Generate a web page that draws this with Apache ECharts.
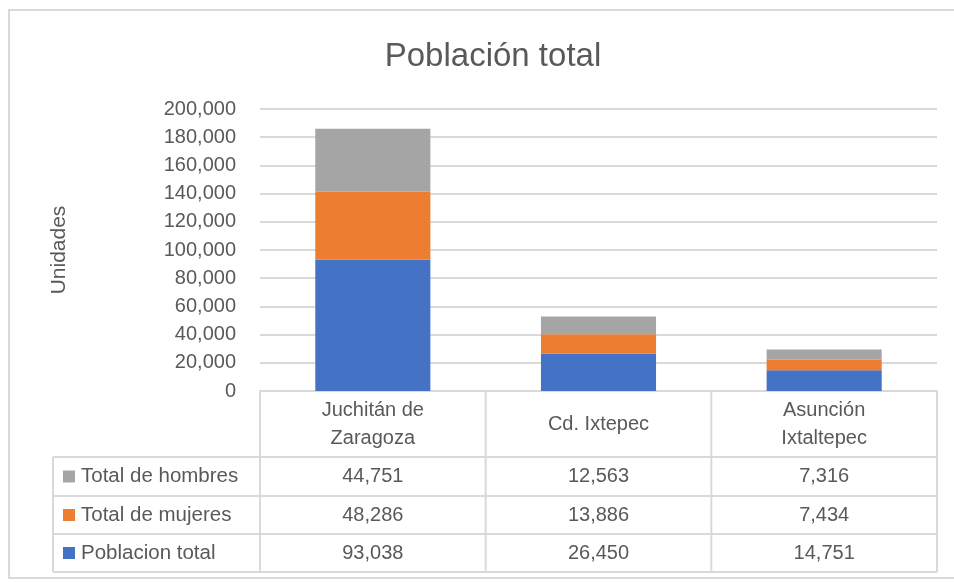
<!DOCTYPE html>
<html>
<head>
<meta charset="utf-8">
<script src="https://cdn.jsdelivr.net/npm/echarts@6/dist/echarts.min.js"></script>
<style>
  html, body { margin: 0; padding: 0; background: #fff; }
  #main { width: 954px; height: 582px; }
</style>
</head>
<body>
<div id="main"></div>
<script>
// datos de la grafica
var categories = ['Juchitán de\nZaragoza', 'Cd. Ixtepec', 'Asunción\nIxtaltepec'];
var seriesNames = ['Poblacion total', 'Total de mujeres', 'Total de hombres'];
var poblacionTotal = [93038, 26450, 14751];
var totalMujeres = [48286, 13886, 7434];
var totalHombres = [44751, 12563, 7316];
var seriesColors = ['#4472c4', '#ed7d31', '#a5a5a5'];
var yMin = 0, yMax = 200000, yStep = 20000;

var FONT = "'Liberation Sans', sans-serif";
var TXT = '#595959';
var LINE = '#d9d9d9';

// posiciones del area de trazado
var gridLeft = 260, gridRight = 17, gridTop = 109, gridBottom = 191;
var plotRight = 954 - gridRight;
var colW = (plotRight - gridLeft) / categories.length;
var axisY = 582 - gridBottom;
var tableLeft = 53;
var rowLines = [457, 496, 534, 572];

function fmt(v) {
	return v.toLocaleString('en-US');
}

var allData = [poblacionTotal, totalMujeres, totalHombres];

//tabla de datos
function buildTable() {
	var els = [];
	// lineas horizontales
	for(var i = 0; i < rowLines.length; i++) {
		els.push({
			type: 'line',
			shape: { x1: tableLeft, y1: rowLines[i], x2: plotRight, y2: rowLines[i] },
			style: { stroke: LINE, lineWidth: 2 }
		});
	}
	// lineas verticales
	els.push({
		type: 'line',
		shape: { x1: tableLeft, y1: rowLines[0], x2: tableLeft, y2: rowLines[rowLines.length - 1] },
		style: { stroke: LINE, lineWidth: 2 }
	});
	for(var c = 0; c <= categories.length; c++) {
		var x = gridLeft + c * colW;
		els.push({
			type: 'line',
			shape: { x1: x, y1: axisY, x2: x, y2: rowLines[rowLines.length - 1] },
			style: { stroke: LINE, lineWidth: 2 }
		});
	}
	// encabezados de categoria
	for(var c = 0; c < categories.length; c++) {
		els.push({
			type: 'text',
			x: gridLeft + (c + 0.5) * colW,
			y: (axisY + rowLines[0]) / 2,
			style: {
				text: categories[c],
				fill: TXT,
				font: '20px ' + FONT,
				align: 'center',
				verticalAlign: 'middle',
				lineHeight: 28
			}
		});
	}
	// filas: hombres, mujeres, poblacion
	for(var r = 0; r < 3; r++) {
		var s = 2 - r;
		var cy = (rowLines[r] + rowLines[r + 1]) / 2;
		els.push({
			type: 'rect',
			shape: { x: 63, y: cy - 6, width: 12, height: 12 },
			style: { fill: seriesColors[s] }
		});
		els.push({
			type: 'text',
			x: 81,
			y: cy,
			style: { text: seriesNames[s], fill: TXT, font: '20.5px ' + FONT, align: 'left', verticalAlign: 'middle' }
		});
		for(var c = 0; c < categories.length; c++) {
			els.push({
				type: 'text',
				x: gridLeft + (c + 0.5) * colW,
				y: cy,
				style: { text: fmt(allData[s][c]), fill: TXT, font: '20px ' + FONT, align: 'center', verticalAlign: 'middle' }
			});
		}
	}
	// marco exterior
	els.push({
		type: 'rect',
		shape: { x: 9, y: 10, width: 960, height: 568 },
		style: { fill: null, stroke: LINE, lineWidth: 2 },
		z: -1
	});
	return els;
}

var series = [];
for(var i = 0; i < seriesNames.length; i++) {
	series.push({
		name: seriesNames[i],
		type: 'bar',
		stack: 'total',
		barWidth: '51%',
		itemStyle: { color: seriesColors[i] },
		data: allData[i]
	});
}

var myChart = echarts.init(document.getElementById('main'));
var option = {
	animation: false,
	title: {
		text: 'Población total',
		left: 488,
		top: 35,
		textAlign: 'center',
		textStyle: { color: TXT, fontSize: 33, fontWeight: 'normal', fontFamily: FONT }
	},
	grid: { left: gridLeft, right: gridRight, top: gridTop, bottom: gridBottom, containLabel: false },
	xAxis: {
		type: 'category',
		data: categories,
		axisLine: { lineStyle: { color: LINE, width: 2 } },
		axisTick: { show: false },
		axisLabel: { show: false }
	},
	yAxis: {
		type: 'value',
		min: yMin,
		max: yMax,
		interval: yStep,
		name: 'Unidades',
		nameLocation: 'middle',
		nameGap: 190,
		nameTextStyle: { color: TXT, fontSize: 21, fontFamily: FONT },
		axisLine: { show: false },
		axisTick: { show: false },
		axisLabel: {
			color: TXT,
			fontSize: 20,
			fontFamily: FONT,
			margin: 24,
			formatter: function(v) { return fmt(v); }
		},
		splitLine: { lineStyle: { color: LINE, width: 2 } }
	},
	graphic: buildTable(),
	series: series
};
myChart.setOption(option);
</script>
</body>
</html>
